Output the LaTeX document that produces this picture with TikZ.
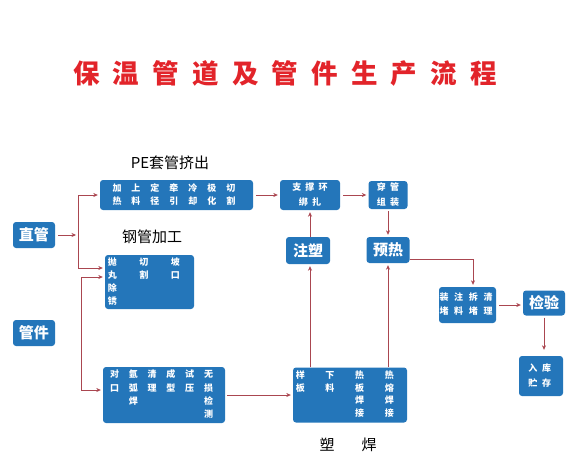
\documentclass[tikz,border=0pt]{standalone}
\usepackage{fontspec}
\usetikzlibrary{arrows.meta}
\newfontfamily\cjk{Noto Sans CJK SC}
\newfontfamily\cjkwide[LetterSpace=45]{Noto Sans CJK SC}
\newfontfamily\cjktitle[LetterSpace=50]{Noto Sans CJK SC}
\definecolor{boxblue}{RGB}{36,118,186}
\definecolor{arrred}{RGB}{170,70,80}
\definecolor{titlered}{RGB}{226,36,42}
% columns of single characters inside a box
\newcommand{\cols}[3]{{\setlength{\tabcolsep}{#1}%
  \renewcommand{\arraystretch}{#2}%
  \begin{tabular}{@{}*{8}{c}@{}}#3\end{tabular}}}

\begin{document}
\begin{tikzpicture}[x=1pt,y=-1pt,
  bluebox/.style={fill=boxblue,rounded corners=3pt,text=white,inner sep=0pt,
    font=\cjk\bfseries\fontsize{9}{10}\selectfont},
  bigbox/.style={bluebox,font=\cjk\bfseries\fontsize{15}{18}\selectfont},
  widebox/.style={bluebox,align=center,font=\cjkwide\bfseries\fontsize{9}{15}\selectfont},
  caption/.style={font=\cjk\fontsize{15}{18}\selectfont},
  wire/.style={draw=arrred,line width=0.6pt},
  arr/.style={wire,shorten >=2pt,-{Stealth[length=4.5pt,width=4pt]}}]
  \useasboundingbox (0,0) rectangle (584,461);
  % Title
  \node[font=\cjktitle\bfseries\fontsize{26.5}{30}\selectfont,text=titlered]
    (title) at (285,73) {保温管道及管件生产流程};
  % Raw materials
  \node[bigbox,minimum width=42pt,minimum height=26pt] (zhiguan) at (34,235) {直管};
  \node[bigbox,minimum width=42pt,minimum height=26pt] (guanjian) at (34,333) {管件};
  % Sleeve extrusion and steel pipe
  \node[caption] (pe) at (170,163) {PE套管挤出};
  \node[bluebox,minimum width=153pt,minimum height=30pt] (extr) at (176.5,195)
    {\cols{5pt}{1.3}{加&上&定&牵&冷&极&切\\ 热&料&径&引&却&化&割}};
  \node[caption] (gangguan) at (152,237) {钢管加工};
  \node[bluebox,minimum width=89pt,minimum height=54pt] (steel) at (149.5,282)
    {\cols{11.25pt}{1.3}{抛&切&坡\\ 丸&割&口\\ 除&&\\ 锈&&}};
  % Fittings
  \node[bluebox,minimum width=122pt,minimum height=56pt] (fit) at (164,395)
    {\cols{4.9pt}{1.33}{对&氩&清&成&试&无\\ 口&弧&理&型&压&损\\ &焊&&&&检\\ &&&&&测}};
  \node[bluebox,minimum width=114pt,minimum height=55pt] (weld) at (350,395)
    {\cols{10.35pt}{1.27}{样&下&热&热\\ 板&料&板&熔\\ &&焊&焊\\ &&接&接}};
  \node[caption] (suhan) at (348,445) {塑\hspace{27pt}焊};
  % Assembly
  \node[widebox,minimum width=60pt,minimum height=30pt] (ring) at (310,195) {支撑环\\绑扎};
  \node[widebox,minimum width=39pt,minimum height=28pt] (sleeve) at (388,195) {穿管\\组装};
  \node[bigbox,minimum width=44pt,minimum height=27pt] (zhusu) at (308,250.5) {注塑};
  \node[bigbox,minimum width=43pt,minimum height=26pt] (yure) at (388,250) {预热};
  \node[bluebox,minimum width=57pt,minimum height=36pt] (mold) at (467.5,305)
    {\cols{2.85pt}{1.4}{装&注&拆&清\\ 堵&料&堵&理}};
  \node[bigbox,minimum width=42pt,minimum height=25pt] (jianyan) at (544,303) {检验};
  \node[bluebox,minimum width=44pt,minimum height=40pt] (store) at (541,376)
    {\cols{2.5pt}{1.5}{入&库\\ 贮&存}};
  % Feed lines on the left
  \coordinate (a1) at (78,195);
  \coordinate (a2) at (78,268);
  \coordinate (b1) at (81,277);
  \coordinate (b2) at (81,390);
  \draw[arr,shorten <=3pt] (zhiguan.east) -- (zhiguan.east -| a1);
  \draw[wire] (a1) -- (a2);
  \draw[arr] (a1) -- (extr.west);
  \draw[arr] (a2) -- (a2 -| steel.west);
  \draw[wire] (b1) -- (b2);
  \draw[arr] (b1) -- (b1 -| steel.west);
  \draw[arr] (b2) -- (b2 -| fit.west);
  % Main flow
  \draw[arr,shorten <=3pt] (extr.east) -- (ring.west);
  \draw[arr,shorten <=3pt] (ring.east) -- (sleeve.west);
  \draw[arr,shorten <=2pt] (sleeve.south) -- (yure.north);
  \draw[arr] (zhusu.north -| ring) -- (ring.south);
  \draw[arr,shorten <=2pt] (fit.east) -- (weld.west);
  \draw[arr] (weld.north -| ring) -- (zhusu.south -| ring);
  \draw[arr] (weld.north -| yure) -- (yure.south);
  \coordinate (c1) at (410,259);
  \coordinate (c2) at (473,259);
  \draw[arr] (c1) -- (c2) -- (c2 |- mold.north);
  \draw[arr,shorten <=3pt] (mold.east) -- (mold.east -| jianyan.west);
  \draw[arr,shorten <=2pt,shorten >=6pt] (jianyan.south) -- (jianyan.south |- store.north);
\end{tikzpicture}
\end{document}
